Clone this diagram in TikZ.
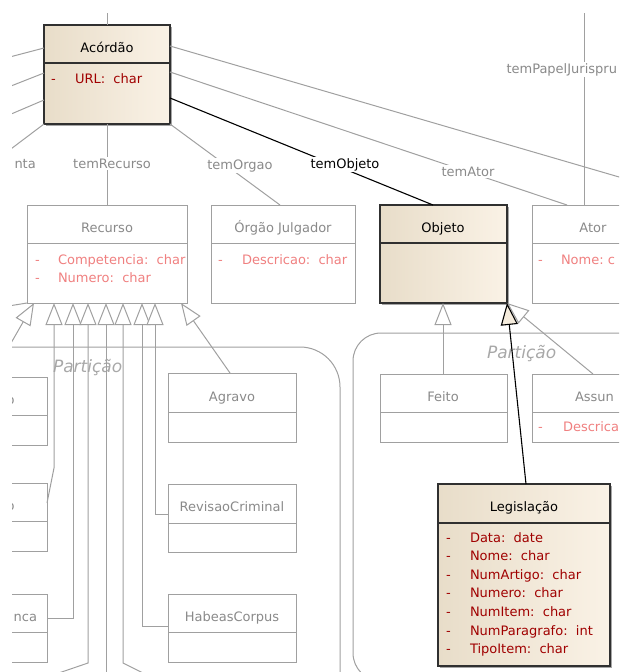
\documentclass[tikz,border=0pt]{standalone}
\usepackage{fontspec}
\setmainfont{DejaVu Sans}
\usetikzlibrary{arrows.meta,fit,shadows}

\definecolor{lineg}{HTML}{A0A0A0}
\definecolor{textg}{HTML}{8A8A8A}
\definecolor{partg}{HTML}{A8A8A8}
\definecolor{attrl}{HTML}{F08080}
\definecolor{attrd}{HTML}{A00000}
\definecolor{beigeL}{HTML}{E8DDC9}
\definecolor{beigeR}{HTML}{FAF2E6}
\definecolor{beigeT}{HTML}{F5ECDD}
\definecolor{edgec}{HTML}{303030}

\begin{document}
\begin{tikzpicture}[x=1pt,y=-1pt,
  font=\fontsize{13}{15}\selectfont,
  every node/.style={inner sep=0pt, outer sep=0pt},
  passive/.style={draw=lineg, line width=1pt, fill=white},
  active/.style={draw=edgec, line width=1.3pt, left color=beigeL, right color=beigeR,
    drop shadow={shadow xshift=2pt, shadow yshift=-2pt, fill=black!35, opacity=1}},
  pdiv/.style={draw=lineg, line width=1pt},
  adiv/.style={draw=edgec, line width=1.3pt},
  partition/.style={draw=lineg, line width=1pt},
  assoc/.style={draw=lineg, line width=1pt},
  assocB/.style={draw=black, line width=1.1pt},
  gen/.style={draw=lineg, line width=1pt, -{Triangle[length=22pt,width=17pt,fill=white]}},
  genB/.style={draw=black, line width=1.1pt, -{Triangle[length=22pt,width=17pt,fill=beigeT]}},
  ttl/.style={text=textg, anchor=base},
  ttlA/.style={text=black, anchor=base},
  attrP/.style={text=attrl, anchor=base west},
  attrA/.style={text=attrd, anchor=base west},
  lbl/.style={text=textg, anchor=base, fill=white, inner sep=1.5pt},
  lblB/.style={text=black, anchor=base, fill=white, inner sep=1.5pt},
  partlbl/.style={text=partg, font=\fontsize{17}{20}\selectfont\itshape, anchor=base west}
]
\useasboundingbox (0,0) rectangle (619,672);
\clip (12,13) rectangle (619,672);

% ---------- partitions ----------
\draw[partition, rounded corners=40pt] (-60,347) rectangle (340,760);
\draw[partition, rounded corners=28pt] (353,333) rectangle (720,681);
\node[partlbl] (partL) at (53,372) {Partição};
\node[partlbl] (partR) at (487,358) {Partição};

% ---------- class boxes ----------
\node[active, fit={(44,25)(170,124)}] (acordao) {};
\node[passive, fit={(27,205)(187,303)}] (recurso) {};
\node[passive, fit={(211,205)(355,303)}] (orgao) {};
\node[active, fit={(380,205)(507,303)}] (objeto) {};
\node[passive, fit={(532,205)(690,303)}] (ator) {};
\node[passive, fit={(-90,377)(47,445)}] (boxA) {};
\node[passive, fit={(-90,483)(47,551)}] (boxB) {};
\node[passive, fit={(-90,594)(47,662)}] (boxC) {};
\node[passive, fit={(168,373)(296,442)}] (agravo) {};
\node[passive, fit={(168,484)(296,552)}] (revisao) {};
\node[passive, fit={(168,594)(296,662)}] (habeas) {};
\node[passive, fit={(380,374)(507,442)}] (feito) {};
\node[passive, fit={(532,374)(690,442)}] (assunto) {};
\node[active, fit={(438,484)(610,666)}] (legis) {};

% compartment dividers
\draw[adiv] (acordao.west |- 0,63) -- (acordao.east |- 0,63);
\draw[pdiv] (recurso.west |- 0,243) -- (recurso.east |- 0,243);
\draw[pdiv] (orgao.west |- 0,243) -- (orgao.east |- 0,243);
\draw[adiv] (objeto.west |- 0,243) -- (objeto.east |- 0,243);
\draw[pdiv] (ator.west |- 0,243) -- (ator.east |- 0,243);
\draw[pdiv] (boxA.west |- 0,415) -- (boxA.east |- 0,415);
\draw[pdiv] (boxB.west |- 0,521) -- (boxB.east |- 0,521);
\draw[pdiv] (boxC.west |- 0,632) -- (boxC.east |- 0,632);
\draw[pdiv] (agravo.west |- 0,412) -- (agravo.east |- 0,412);
\draw[pdiv] (revisao.west |- 0,523) -- (revisao.east |- 0,523);
\draw[pdiv] (habeas.west |- 0,632) -- (habeas.east |- 0,632);
\draw[pdiv] (feito.west |- 0,412) -- (feito.east |- 0,412);
\draw[pdiv] (assunto.west |- 0,412) -- (assunto.east |- 0,412);
\draw[adiv] (legis.west |- 0,523) -- (legis.east |- 0,523);

% ---------- connector ends outside the view ----------
\coordinate (offTop) at (107,0);
\coordinate (offL1) at (-20,64.8);
\coordinate (offL2) at (-20,98.2);
\coordinate (offL3) at (-20,127.3);
\coordinate (offL4) at (-20,172.3);
\coordinate (offR1) at (700,200.6);
\coordinate (offPapel) at (584,0);
\coordinate (offG0) at (-5,371);
\coordinate (offM) at (-10,309);
\coordinate (offG88) at (50,676);
\coordinate (offG106) at (106,690);
\coordinate (offG123) at (150,676.5);

% ---------- associations ----------
\draw[assoc] (acordao.north) -- (offTop);
\draw[assoc] (acordao.west |- 0,48) -- (offL1);
\draw[assoc] (acordao.west |- 0,73) -- (offL2);
\draw[assoc] (acordao.west |- 0,100) -- (offL3);
\draw[assoc] (acordao.south west) -- (offL4);
\draw[assoc] (acordao.east |- 0,46) -- (offR1);
\draw[assoc] (acordao.east |- 0,72) -- (ator.north -| 567,0);
\draw[assoc] (acordao.south east) -- (orgao.north -| 280,0);
\draw[assoc] (acordao.south) -- (recurso.north);
\draw[assoc] (offPapel) -- (ator.north -| 584,0);
\draw[assocB] (acordao.east |- 0,98) -- (objeto.north -| 433,0);
\draw[assoc] (offM) -- (recurso.south west);

% ---------- generalizations into Recurso ----------
\draw[gen] (offG0) -- (recurso.south -| 34,0);
\draw[gen] (boxB.east |- 0,503) -- (54,468) -- (recurso.south -| 54,0);
\draw[gen] (boxC.east |- 0,618) -- (73,618) -- (recurso.south -| 73,0);
\draw[gen] (offG88) -- (88,663) -- (recurso.south -| 88,0);
\draw[gen] (offG106) -- (recurso.south -| 106,0);
\draw[gen] (offG123) -- (123,663) -- (recurso.south -| 123,0);
\draw[gen] (habeas.west |- 0,626) -- (142,626) -- (recurso.south -| 142,0);
\draw[gen] (revisao.west |- 0,514) -- (155,514) -- (recurso.south -| 155,0);
\draw[gen] (agravo.north -| 230,0) -- (recurso.south -| 181,0);

% ---------- generalizations into Objeto ----------
\draw[gen] (feito.north -| 443,0) -- (objeto.south -| 443,0);
\draw[gen] (assunto.north -| 593,0) -- (objeto.south east);
\draw[genB] (legis.north -| 526,0) -- (objeto.south east);

% ---------- association labels ----------
\node[lbl, anchor=base west] (lblNta) at (13,168) {nta};
\node[lbl] (lblRec) at (112,168) {temRecurso};
\node[lbl] (lblOrg) at (240,169) {temOrgao};
\node[lblB] (lblObj) at (345,168) {temObjeto};
\node[lbl] (lblAtor) at (468,176) {temAtor};
\node[lbl, anchor=base west] (lblPapel) at (505,73) {temPapelJurispru};

% ---------- class texts ----------
\node[ttlA] (tAcordao) at (107,52) {Acórdão};
\node[attrA] (aAc1) at (51,83) {-};
\node[attrA] (aAc2) at (75,83) {URL:\ \ char};

\node[ttl] (tRecurso) at (107,232) {Recurso};
\node[attrP] (aRe1) at (35,264) {-};
\node[attrP] (aRe2) at (58,264) {Competencia:\ \ char};
\node[attrP] (aRe3) at (35,282) {-};
\node[attrP] (aRe4) at (58,282) {Numero:\ \ char};

\node[ttl] (tOrgao) at (283,232) {Órgão Julgador};
\node[attrP] (aOr1) at (218,264) {-};
\node[attrP] (aOr2) at (242,264) {Descricao:\ \ char};

\node[ttlA] (tObjeto) at (443,232) {Objeto};

\node[ttl] (tAtor) at (593,232) {Ator};
\node[attrP] (aAt1) at (538,264) {-};
\node[attrP] (aAt2) at (561,264) {Nome:\ c};

\node[ttl, anchor=base east] (tBoxA) at (14.5,404) {o};
\node[ttl, anchor=base east] (tBoxB) at (14.5,510) {o};
\node[ttl, anchor=base east] (tBoxC) at (37,621) {nca};

\node[ttl] (tAgravo) at (232,401) {Agravo};
\node[ttl] (tRevisao) at (232,511) {RevisaoCriminal};
\node[ttl] (tHabeas) at (232,621) {HabeasCorpus};

\node[ttl] (tFeito) at (443,401) {Feito};
\node[ttl, anchor=base west] (tAssunto) at (575,401) {Assun};
\node[attrP] (aAs1) at (538,431) {-};
\node[attrP] (aAs2) at (563,431) {Descrica};

\node[ttlA] (tLegis) at (524,511) {Legislação};
\foreach \yy/\txt [count=\i] in {542/{Data:\ \ date}, 560/{Nome:\ \ char}, 579/{NumArtigo:\ \ char},
    597/{Numero:\ \ char}, 616/{NumItem:\ \ char}, 635/{NumParagrafo:\ \ int}, 653/{TipoItem:\ \ char}} {
  \node[attrA] (aLgD\i) at (446,\yy) {-};
  \node[attrA] (aLg\i) at (470,\yy) {\txt};
}
\end{tikzpicture}
\end{document}
